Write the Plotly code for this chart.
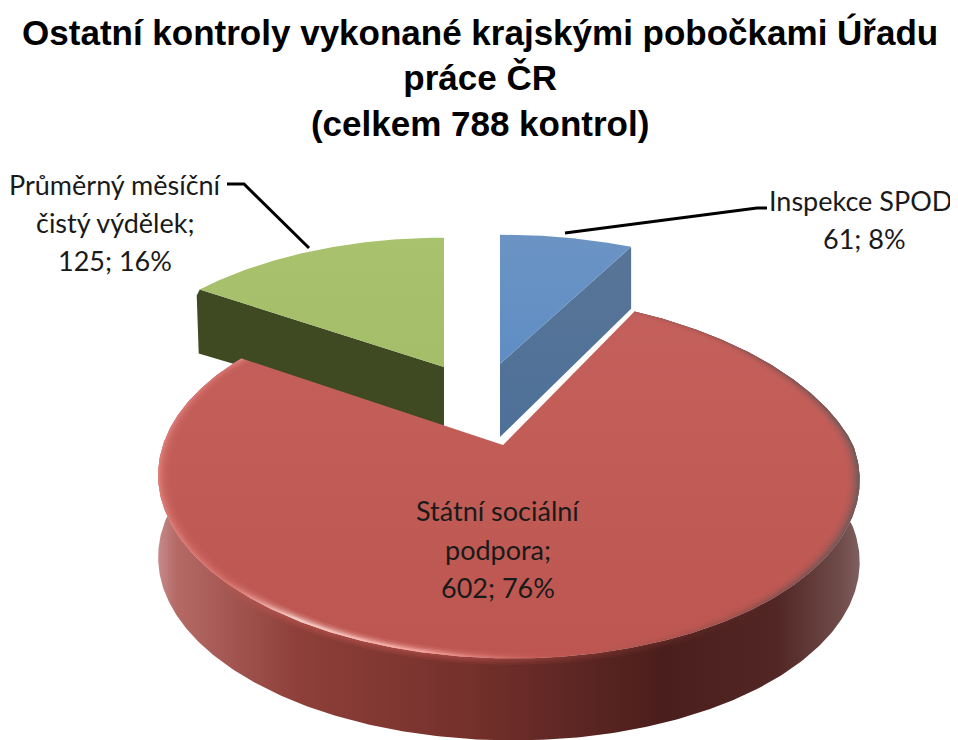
import numpy as np
import plotly.graph_objects as go

categories = ["Inspekce SPOD", "Státní sociální podpora", "Průměrný měsíční čistý výdělek"]
values = [61, 602, 125]
percents = [8, 76, 16]
title_text = "Ostatní kontroly vykonané krajskými pobočkami Úřadu<br>práce ČR<br>(celkem 788 kontrol)"

total = sum(values)
edges = np.concatenate([[0], np.cumsum(values)]) / total * 2 * np.pi


def proj(t, g, s=1.0):
    w = 1 + g["p"] * np.cos(t)
    warp = g.get("off", 0) * (1 - np.cos(t)) / 2 - g.get("trim", 0) * np.maximum(np.sin(t), 0) * np.maximum(np.cos(t), 0)
    return g["ax"] + s * (g["R"] * np.sin(t) / w + warp), g["ay"] - s * g["K"] * np.cos(t) / w


def arc(a, b, g, s=1.0, n=160):
    t = np.linspace(a, b, n)
    return proj(t, g, s)


def poly(x, y, color=None, grad=None):
    kw = dict(fillgradient=grad) if grad else dict(fillcolor=color)
    return go.Scatter(x=list(x), y=list(y), mode="lines", line=dict(width=0), fill="toself",
                      hoverinfo="skip", showlegend=False, **kw)


def hgrad(stops, start, stop):
    return dict(type="horizontal", colorscale=stops, start=start, stop=stop)


def vgrad(stops, start, stop):
    return dict(type="vertical", colorscale=stops, start=start, stop=stop)


blue = dict(ax=500, ay=364, R=345, K=163, p=0.26)
red = dict(ax=503, ay=445, R=345, K=175, p=0.18, off=10, trim=20)
green = dict(ax=444, ay=367, R=332, K=163, p=0.26)
d_blue, d_green, d_red = 68, 60, 82

fig = go.Figure()

# green slice
a, b = edges[2], edges[3]
tx, ty = proj(a, green)
gx, gy = arc(a, b, green)
fig.add_trace(poly(
    [tx - 3, tx - 1, 444, 444, tx, tx - 3],
    [ty + 6, ty + d_green + 4, 367 + d_green - 1, 367, ty, ty + 6],
    color="#3F4A22"))
fig.add_trace(poly(list(gx) + [444], list(gy) + [367],
                   grad=vgrad([[0, "#A9C26E"], [1, "#A3BD68"]], 238, 367)))

# blue slice
a, b = edges[0], edges[1]
tx, ty = proj(b, blue)
bx, by = arc(a, b, blue)
fig.add_trace(poly([500, tx, tx, 500], [364, ty, ty + d_blue - 6, 364 + d_blue + 5],
                   grad=vgrad([[0, "#587596"], [1, "#4E7099"]], 250, 437)))
fig.add_trace(poly(list(bx) + [500], list(by) + [364],
                   grad=vgrad([[0, "#6B94C4"], [1, "#5F8DC4"]], 236, 364)))

# red slice: rim
a, b = edges[1], edges[2]
rx, ry = arc(a, b, red, n=400)
rim_stops = [[0, "#C89090"], [0.03, "#B56A66"], [0.2, "#8E3F39"], [0.45, "#74302B"],
             [0.72, "#4A1E1C"], [0.88, "#512624"], [0.97, "#6E4A48"], [1, "#806060"]]
fig.add_trace(poly(list(rx) + list(rx[::-1]), list(ry) + list((ry + d_red)[::-1]),
                   grad=hgrad(rim_stops, 155, 860)))

# soft band on the rim, just below the front edge
front_a, front_b = np.radians(118), np.radians(250)
for s1, al in [(1.03, 0.18), (1.02, 0.22), (1.01, 0.3)]:
    ox, oy = arc(front_a, front_b, red, 1.0, n=300)
    ix, iy = arc(front_a, front_b, red, s1, n=300)
    stops = [[0, "rgba(190,85,80,0)"], [0.1, f"rgba(190,85,80,{al})"], [0.45, f"rgba(185,80,75,{al})"],
             [0.7, f"rgba(120,50,45,{al})"], [1, "rgba(90,40,40,0)"]]
    fig.add_trace(poly(list(ox) + list(ix[::-1]), list(oy) + list(iy[::-1]),
                       grad=hgrad(stops, 205, 800)))

# red slice: top face
fig.add_trace(poly(list(rx) + [503], list(ry) + [445],
                   grad=vgrad([[0, "#C4605B"], [1, "#BD5650"]], 305, 660)))


# bevel: layered thin rings so the edge fades softly
def ring_stops(alpha):
    base = [(0.0, (235, 140, 135), 0.55), (0.1, (232, 130, 125), 0.45), (0.2, (255, 225, 220), 1.0),
            (0.38, (255, 175, 170), 0.95), (0.55, (205, 95, 90), 0.25), (0.8, (110, 70, 70), 0.25),
            (1.0, (100, 90, 90), 0.85)]
    return [[p, f"rgba({c[0]},{c[1]},{c[2]},{round(v * alpha, 3)})"] for p, c, v in base]


ring_scales = [0.995, 0.99, 0.984, 0.977, 0.968]
ring_alphas = [0.6, 0.45, 0.3, 0.2, 0.12]
for s1, al in zip(ring_scales, ring_alphas):
    ox, oy = arc(a, b, red, 1.0, n=400)
    ix, iy = arc(a, b, red, s1, n=400)
    fig.add_trace(poly(list(ox) + list(ix[::-1]), list(oy) + list(iy[::-1]),
                       grad=hgrad(ring_stops(al), 155, 860)))

# leader lines
for lx, ly in [([227, 244, 309], [184, 184, 248]), ([565, 757, 767], [233, 208, 208])]:
    fig.add_trace(go.Scatter(x=lx, y=ly, mode="lines", line=dict(color="#000000", width=3),
                             hoverinfo="skip", showlegend=False))

# labels
label_lines = [
    ([f"{categories[0]};", f"{values[0]}; {percents[0]}%"], 864, [200, 238]),
    (["Státní sociální", "podpora;", f"{values[1]}; {percents[1]}%"], 498, [510, 549, 587]),
    (["Průměrný měsíční", "čistý výdělek;", f"{values[2]}; {percents[2]}%"], 115, [184, 222, 260]),
]
annotations = []
for lines, cx, ys in label_lines:
    for line, yy in zip(lines, ys):
        annotations.append(dict(x=cx, y=yy, xref="x", yref="y", text=line, showarrow=False,
                                xanchor="center", yanchor="middle",
                                font=dict(family="Lato", size=27, color="#1a1a1a")))

# the page has an 8 px body margin, so the figure covers 950x732 of the window
fig.update_layout(
    width=950, height=732, margin=dict(l=0, r=0, t=0, b=0),
    paper_bgcolor="white", plot_bgcolor="white", showlegend=False,
    title=dict(text=title_text, x=0.497, xanchor="center", y=0.95, yanchor="top",
               font=dict(family="Liberation Sans", size=35, color="#000000", weight="bold")),
    xaxis=dict(range=[8, 958], visible=False, fixedrange=True),
    yaxis=dict(range=[740, 8], visible=False, fixedrange=True),
    annotations=annotations,
)

fig.write_html("out.html")
